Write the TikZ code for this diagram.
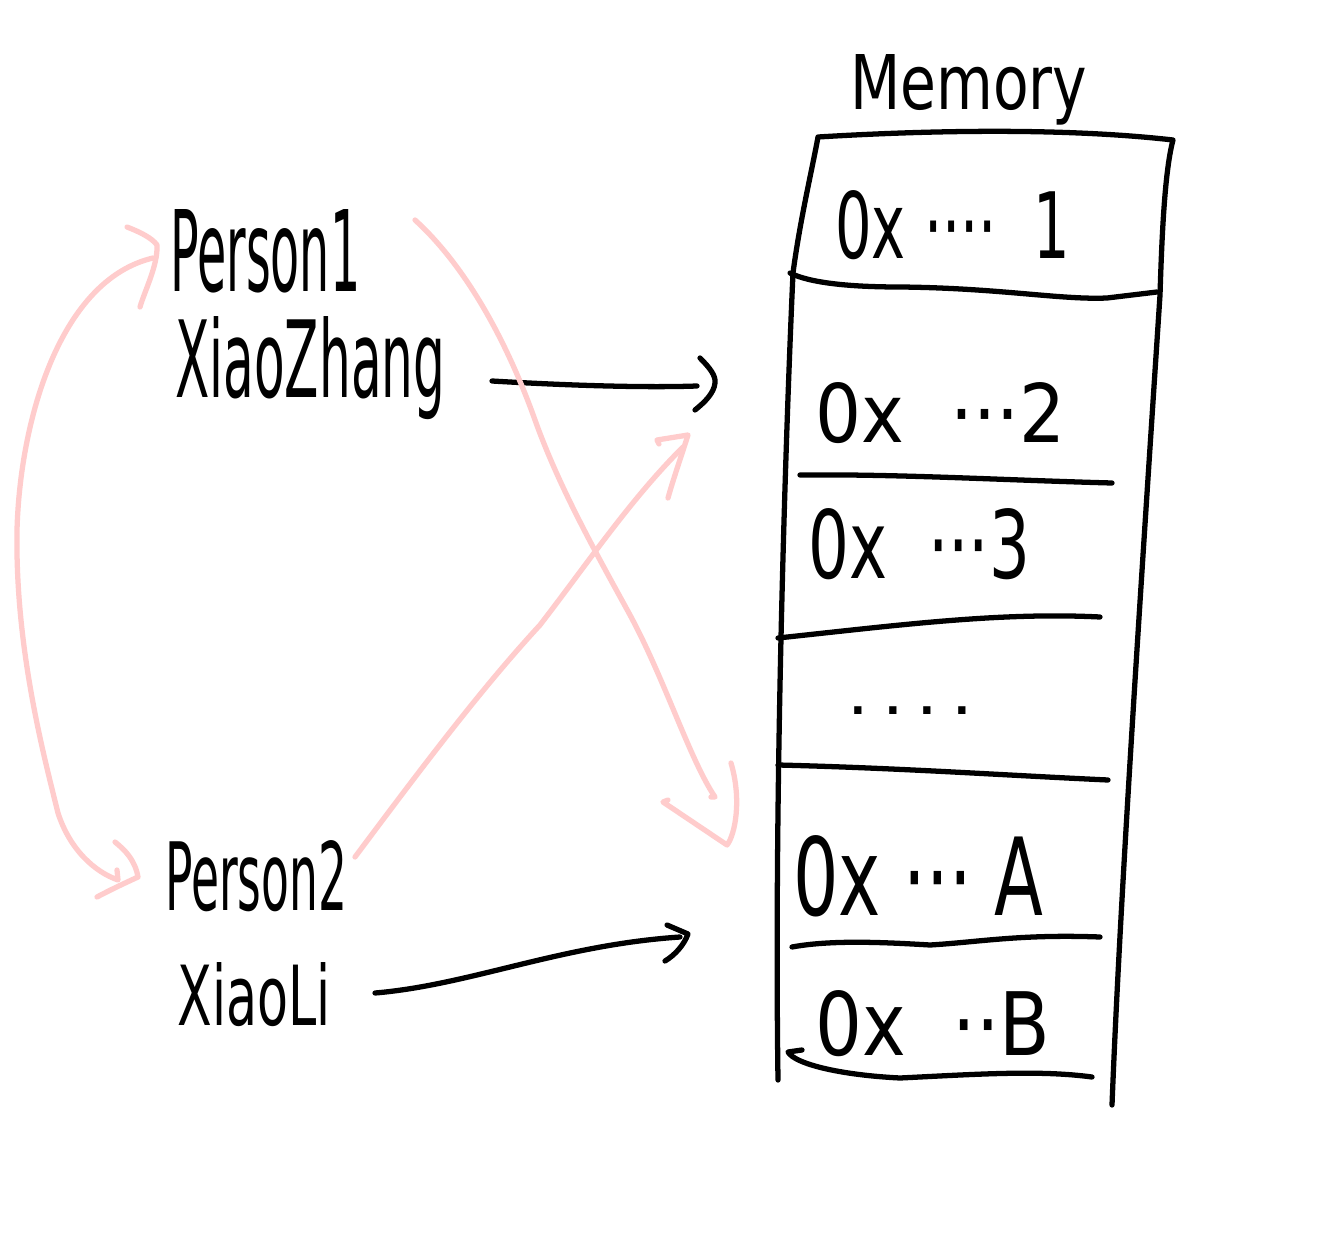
\documentclass[tikz,border=0pt]{standalone}
\usepackage{fontspec}
\usepackage{graphicx}
\setmainfont{DejaVu Sans}
\definecolor{pinkc}{RGB}{255,204,204}
\newcommand{\hw}[3]{\resizebox{#1cm}{#2cm}{#3}}
\tikzset{
  ink/.style={line width=3pt, line cap=round, line join=round},
  blk/.style={ink, draw=black},
  pnk/.style={ink, draw=pinkc},
  lbl/.style={inner sep=0pt, anchor=base west}
}
\begin{document}
\begin{tikzpicture}[x=0.02cm, y=-0.02cm]
\useasboundingbox[fill=white] (0,0) rectangle (1339,1240);

% ---- labels ----
\node[lbl] (mem) at (850,110) {\hw{4.74}{1.1}{Memory}};
\node[lbl] (p1) at (170,292) {\hw{3.8}{1.64}{Person1}};
\node[lbl] (zhang) at (175,398) {\hw{5.4}{1.62}{XiaoZhang}};
\node[lbl] (p2) at (165,910) {\hw{3.64}{1.4}{Person2}};
\node[lbl] (li) at (177,1025) {\hw{3.06}{1.26}{XiaoLi}};

\node[lbl] (c1) at (835,258) {\hw{4.7}{1.36}{0x\ ····\ \ 1}};
\node[lbl] (c2) at (815,442) {\hw{5.0}{1.2}{0x\ \ ···2}};
\node[lbl] (c3) at (808,578) {\hw{4.44}{1.4}{0x\ \ ···3}};
\node[lbl] (c4) at (850,714) {\resizebox{2.4cm}{!}{\bfseries . . . .}};
\node[lbl] (c5) at (793,915) {\hw{5.0}{1.6}{0x\ ···\ A}};
\node[lbl] (c6) at (815,1055) {\hw{4.7}{1.3}{0x\ \ ··B}};

% ---- memory column ----
\draw[blk] (778,1080) .. controls (774,800) and (785,450) .. (793,273)
  .. controls (800,220) and (812,170) .. (818,137)
  .. controls (900,132) and (1050,126) .. (1173,140)
  .. controls (1165,170) and (1162,230) .. (1160,295)
  .. controls (1140,600) and (1120,900) .. (1112,1105);
\draw[blk] (790,273) .. controls (810,283) and (850,287) .. (900,287)
  .. controls (1000,288) and (1060,300) .. (1107,298) -- (1157,292);
\draw[blk] (800,475) .. controls (900,474) and (1000,480) .. (1112,483);
\draw[blk] (778,638) .. controls (900,625) and (1000,612) .. (1100,617);
\draw[blk] (778,765) .. controls (900,768) and (1000,775) .. (1108,780);
\draw[blk] (792,947) .. controls (830,940) and (880,942) .. (930,945)
  .. controls (980,942) and (1020,934) .. (1100,937);
\draw[blk] (802,1050) -- (788,1052) .. controls (795,1064) and (840,1075) .. (900,1078)
  .. controls (980,1074) and (1040,1070) .. (1092,1077);

% ---- black arrows ----
\coordinate (t1) at (715,383);
\coordinate (s1) at (492,381);
\draw[blk] (s1) .. controls (560,385) and (640,388) .. (697,386);
\draw[blk] (700,358) .. controls (710,368) and (716,376) .. (t1) .. controls (714,393) and (705,402) .. (695,410);

\coordinate (t2) at (688,934);
\coordinate (s2) at (375,993);
\draw[blk] (s2) .. controls (470,985) and (560,945) .. (680,937);
\draw[blk] (667,925) -- (t2) .. controls (684,945) and (675,955) .. (665,961);

% ---- pink arrows ----
% Person1 <-> Person2
\coordinate (q1) at (157,245);
\coordinate (q2) at (138,877);
\draw[pnk] (153,258) .. controls (60,280) and (20,420) .. (17,530)
  .. controls (15,650) and (45,760) .. (58,813)
  .. controls (70,850) and (95,872) .. (118,880) -- (117,870);
\draw[pnk] (127,227) .. controls (140,232) and (152,238) .. (q1)
  .. controls (158,265) and (145,290) .. (140,307);
\draw[pnk] (115,842) .. controls (125,850) and (135,860) .. (q2)
  .. controls (125,883) and (110,890) .. (97,897);

% Person1 -> 0x..A
\coordinate (q3) at (727,845);
\draw[pnk] (415,220) .. controls (470,270) and (510,350) .. (535,420)
  .. controls (560,490) and (600,560) .. (630,615)
  .. controls (665,680) and (690,760) .. (715,797) -- (711,797);
\draw[pnk] (668,800) -- (663,802) -- (q3) .. controls (735,835) and (742,800) .. (731,763);

% Person2 -> 0x..2
\coordinate (q4) at (688,435);
\draw[pnk] (355,857) .. controls (420,770) and (480,690) .. (540,625)
  .. controls (590,560) and (630,500) .. (683,447);
\draw[pnk] (659,444) -- (657,440) -- (q4) .. controls (680,460) and (673,480) .. (668,498);
\end{tikzpicture}
\end{document}
